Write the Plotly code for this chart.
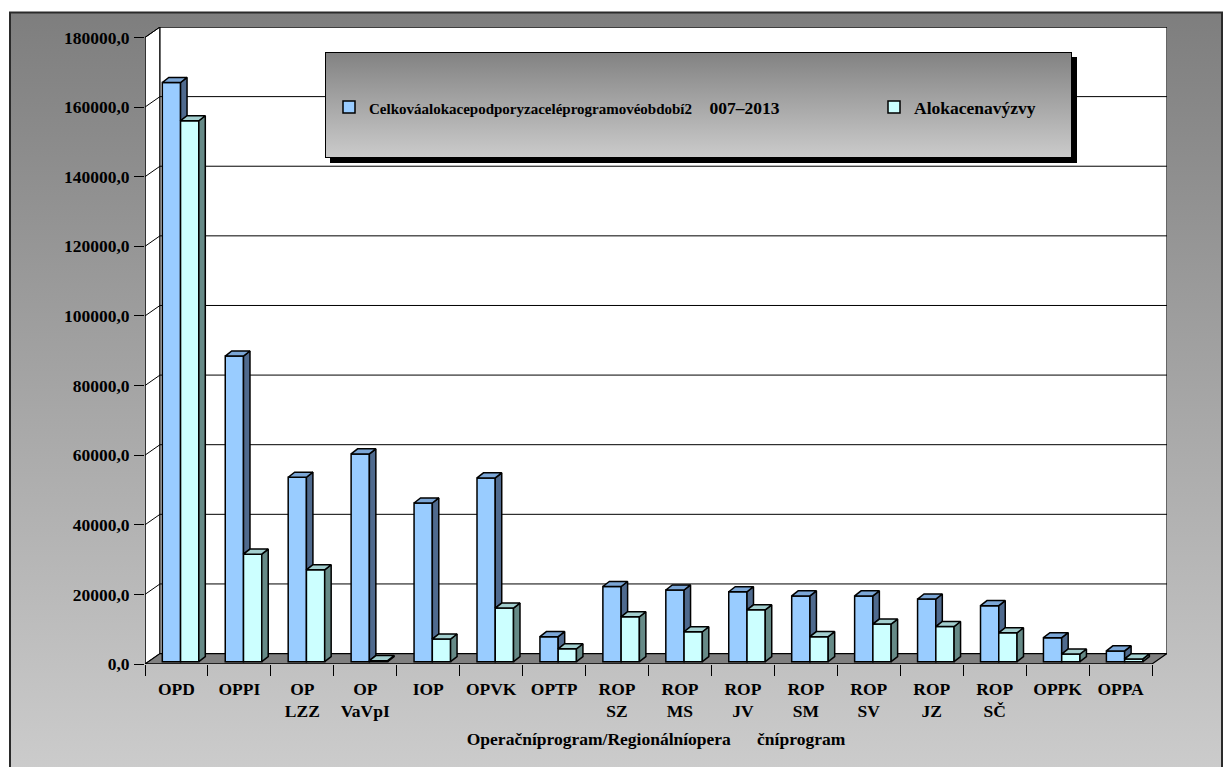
import base64
import plotly.graph_objects as go

# ---------------- data ----------------
categories = ["OPD", "OPPI", "OP<br>LZZ", "OP<br>VaVpI", "IOP", "OPVK", "OPTP",
              "ROP<br>SZ", "ROP<br>MS", "ROP<br>JV", "ROP<br>SM", "ROP<br>SV",
              "ROP<br>JZ", "ROP<br>SČ", "OPPK", "OPPA"]
celkova_alokace = [166400, 87800, 53000, 59700, 45600, 52800, 7200,
                   21600, 20600, 20100, 18900, 18900, 18000, 16100, 6900, 3100]
alokace_vyzvy = [155400, 30900, 26400, 300, 6500, 15400, 3700,
                 12900, 8600, 14900, 7200, 10800, 10100, 8300, 2200, 800]
y_ticks = list(range(0, 180001, 20000))
y_ticktext = [f"{v},0" for v in y_ticks]

NB = "\u00a0"
series1_name = ('<span style="font-size:15px">Celkováalokacepodporyzaceléprogramovéobdobí2</span>'
                + NB * 4 + "007–2013")
series2_name = "Alokacenavýzvy"
x_title = "Operačníprogram/Regionálníopera" + NB * 6 + "čníprogram"

# ---------------- geometry (pseudo 3D) ----------------
N = len(categories)
idx = list(range(N))
BW = 0.29            # bar width (category units)
BASE = 660           # bars stand slightly behind the front edge
DX, DY = 0.103, 1450  # bar depth
FX, FY = 0.238, 3000  # floor / wall depth
YMAX = 180000
XLO, XHI = -0.5, N - 0.5 + FX
YHI = YMAX + FY

blue_x = [i - 0.08 for i in idx]
light_x = [i + 0.21 for i in idx]

FONT = "Liberation Serif"
BLUE, BLUE_SIDE, BLUE_TOP = "#99CCFF", "#4F6A8E", "#7BA6D6"
LIGHT, LIGHT_SIDE, LIGHT_TOP = "#CCFFFF", "#668A87", "#A3CFCF"

fig = go.Figure()

fig.add_trace(go.Bar(x=blue_x, y=celkova_alokace, base=BASE, width=BW,
                     marker=dict(color=BLUE, line=dict(color="black", width=1.5)),
                     name=series1_name, legend="legend"))
fig.add_trace(go.Bar(x=light_x, y=alokace_vyzvy, base=BASE, width=BW,
                     marker=dict(color=LIGHT, line=dict(color="black", width=1.5)),
                     name=series2_name, legend="legend2"))


def side_poly(xc, vals, bottoms=None):
    xs, ys = [], []
    for k, (x, v) in enumerate(zip(xc, vals)):
        xr = x + BW / 2
        t = BASE + v
        b = BASE if bottoms is None else BASE + min(bottoms[k], v)
        xs += [xr, xr + DX, xr + DX, xr, xr, None]
        ys += [b, b + DY, t + DY, t, b, None]
    return xs, ys


def top_poly(xc, vals):
    xs, ys = [], []
    for x, v in zip(xc, vals):
        xl, xr = x - BW / 2, x + BW / 2
        t = BASE + v
        xs += [xl, xl + DX, xr + DX, xr, xl, None]
        ys += [t, t + DY, t + DY, t, t, None]
    return xs, ys


for (xs, ys), col in [
    (side_poly(blue_x, celkova_alokace, alokace_vyzvy), BLUE_SIDE),
    (top_poly(blue_x, celkova_alokace), BLUE_TOP),
    (side_poly(light_x, alokace_vyzvy), LIGHT_SIDE),
    (top_poly(light_x, alokace_vyzvy), LIGHT_TOP),
]:
    fig.add_trace(go.Scatter(x=xs, y=ys, mode="lines", fill="toself",
                             fillcolor=col, line=dict(color="black", width=1.5),
                             showlegend=False, hoverinfo="skip"))

# ---------------- walls, floor, grid ----------------
shapes = []
shapes.append(dict(type="path", xref="x", yref="y", layer="below",
                   path=f"M{XLO},0 L{XLO},{YMAX} L{XLO+FX},{YHI} L{XLO+FX},{FY} Z",
                   fillcolor="white", line=dict(color="black", width=1)))
shapes.append(dict(type="rect", xref="x", yref="y", layer="below",
                   x0=XLO + FX, x1=XHI, y0=FY, y1=YHI,
                   fillcolor="white", line=dict(color="black", width=1.2)))
shapes.append(dict(type="path", xref="x", yref="y", layer="below",
                   path=f"M{XLO},0 L{N-0.5},0 L{XHI},{FY} L{XLO+FX},{FY} Z",
                   fillcolor="#808080", line=dict(color="black", width=1.2)))
for v in y_ticks[1:]:
    shapes.append(dict(type="line", xref="x", yref="y", layer="below",
                       x0=XLO + FX, x1=XHI, y0=v + FY, y1=v + FY,
                       line=dict(color="black", width=1)))
    shapes.append(dict(type="line", xref="x", yref="y", layer="below",
                       x0=XLO, x1=XLO + FX, y0=v, y1=v + FY,
                       line=dict(color="black", width=1)))
shapes.append(dict(type="line", xref="x", yref="y", x0=XLO, x1=XLO, y0=0, y1=YMAX,
                   line=dict(color="black", width=1.2)))
shapes.append(dict(type="line", xref="x", yref="y", x0=XLO, x1=N - 0.5, y0=0, y1=0,
                   line=dict(color="black", width=1.2)))

# ---------------- background images (gradients) ----------------
def svg_uri(svg):
    return "data:image/svg+xml;base64," + base64.b64encode(svg.encode()).decode()

W, H = 1229, 767
L, R, T, B = 145, 62, 27, 103
PW, PH = W - L - R, H - T - B


def px(xp):
    return (xp - L) / PW


def py(yp):
    return (H - B - yp) / PH


bg_svg = (f'<svg xmlns="http://www.w3.org/2000/svg" width="{W}" height="{H}" viewBox="0 0 {W} {H}">'
          '<defs><linearGradient id="g" x1="0" y1="0" x2="0" y2="1">'
          '<stop offset="0" stop-color="#7e7e7e"/><stop offset="1" stop-color="#cdcdcd"/>'
          '</linearGradient></defs>'
          f'<rect width="{W}" height="{H}" fill="#ffffff"/>'
          f'<rect x="10" y="12.5" width="1212" height="770" fill="url(#g)" stroke="#2a2a2a" stroke-width="2"/>'
          '</svg>')
lg_w, lg_h = 752, 111
lg_svg = (f'<svg xmlns="http://www.w3.org/2000/svg" width="{lg_w}" height="{lg_h}" viewBox="0 0 {lg_w} {lg_h}">'
          '<defs><linearGradient id="g" x1="0" y1="0" x2="0" y2="1">'
          '<stop offset="0" stop-color="#828282"/><stop offset="1" stop-color="#cbcbcb"/>'
          '</linearGradient></defs>'
          f'<rect x="5" y="5" width="{lg_w-5}" height="{lg_h-5}" fill="#000"/>'
          f'<rect x="0.5" y="0.5" width="{lg_w-6}" height="{lg_h-6}" fill="url(#g)" stroke="#000" stroke-width="1"/>'
          '</svg>')

images = [
    dict(source=svg_uri(bg_svg), xref="paper", yref="paper", x=px(0), y=py(0),
         sizex=W / PW, sizey=H / PH, xanchor="left", yanchor="top",
         sizing="stretch", layer="below"),
    dict(source=svg_uri(lg_svg), xref="paper", yref="paper", x=px(325), y=py(52),
         sizex=lg_w / PW, sizey=lg_h / PH, xanchor="left", yanchor="top",
         sizing="stretch", layer="above"),
]

font_b = dict(family=FONT, size=17.5, color="black", weight="bold")

fig.update_layout(
    width=W, height=H,
    margin=dict(l=L, r=R, t=T, b=B, pad=0),
    paper_bgcolor="white", plot_bgcolor="rgba(0,0,0,0)",
    barmode="overlay",
    shapes=shapes, images=images,
    font=font_b,
    legend=dict(x=px(329), y=py(107), xanchor="left", yanchor="middle",
                bgcolor="rgba(0,0,0,0)", font=font_b, orientation="h"),
    legend2=dict(x=px(874), y=py(107), xanchor="left", yanchor="middle",
                 bgcolor="rgba(0,0,0,0)", font=font_b, orientation="h"),
    xaxis=dict(range=[XLO, XHI], showgrid=False, zeroline=False, showline=False,
               tickmode="array", tickvals=idx, ticktext=categories, ticks="",
               tickfont=font_b, automargin=False, ticklabelstandoff=12,
               minor=dict(ticks="outside", ticklen=11, tickcolor="black", tickwidth=1,
                          tickmode="array", tickvals=[i - 0.5 for i in range(N + 1)],
                          showgrid=False),
               title=dict(text=x_title, font=font_b, standoff=12)),
    yaxis=dict(range=[0, YHI], showgrid=False, zeroline=False, showline=False,
               tickmode="array", tickvals=y_ticks, ticktext=y_ticktext,
               ticks="outside", ticklen=10, tickcolor="black", tickwidth=1,
               tickfont=font_b, automargin=False, ticklabelstandoff=1),
)

fig.write_html("out.html", config={"displayModeBar": False},
               post_script="document.body.style.margin='0';document.body.style.overflow='hidden';")
